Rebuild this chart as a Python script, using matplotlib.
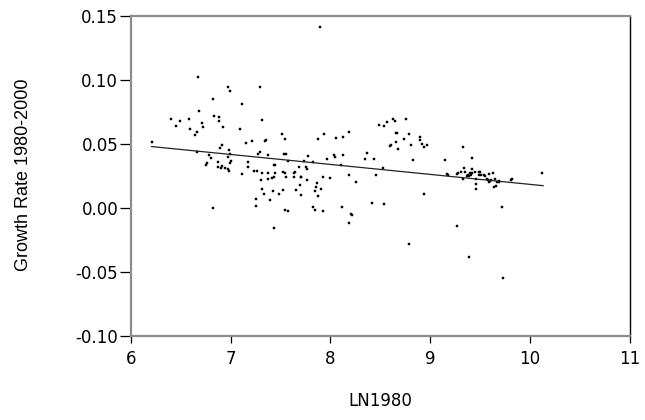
import matplotlib
matplotlib.use("Agg")

import matplotlib.pyplot as plt
import numpy as np

# LN1980 and growth rate 1980-2000
ln1980 = [
    6.67, 6.97, 6.99, 7.30, 7.90,
    6.82, 7.11, 6.68, 6.83, 6.88, 6.40, 6.58, 6.49, 7.32, 6.88,
    6.71, 6.45, 6.72, 6.92, 6.59, 7.09, 6.66, 6.64, 7.52, 7.55,
    7.36, 7.35, 7.21, 7.15, 6.21, 6.91, 6.89, 6.66, 6.98, 7.30,
    7.28, 7.38, 7.54, 7.56, 6.78, 6.80, 6.97, 6.99, 7.58, 7.17,
    7.00, 6.87, 6.76, 6.99, 6.75, 7.44, 7.45, 7.17, 6.87, 6.91,
    6.90, 6.94, 6.97, 6.98, 7.23, 7.27, 7.53, 7.55, 7.11, 7.32,
    7.38, 7.45, 7.56, 7.44, 7.42, 7.38, 7.31, 7.32, 7.53, 7.43,
    7.34, 7.49, 7.25, 7.40, 7.26, 6.82, 7.55, 7.58, 7.44,
    8.63, 8.76, 8.65, 8.57, 8.49, 8.54, 8.19, 7.94, 8.66, 8.67,
    8.79, 7.88, 8.06, 8.13, 8.90, 8.74, 8.90, 8.66, 8.81, 8.61,
    8.60, 8.92, 8.97, 8.94, 8.68, 8.37, 7.78, 8.04, 8.05, 8.13,
    8.35, 8.44, 8.83, 7.97, 7.74, 7.83, 8.11, 7.69, 7.76, 7.77,
    8.53, 7.65, 7.64, 8.19, 8.46, 7.93, 8.00, 7.71, 7.71, 7.64,
    7.77, 7.87, 8.26, 7.70, 7.86, 7.91, 7.66, 7.85, 8.94, 7.71,
    7.88, 8.42, 8.54, 7.83, 7.85, 7.93, 8.12, 8.21, 8.22, 8.19,
    8.79,
    9.33, 9.42, 9.15, 10.12, 9.17, 9.18, 9.34, 9.42, 9.31, 9.27,
    9.28, 9.35, 9.38, 9.40, 9.42, 9.39, 9.37, 9.41, 9.45, 9.49,
    9.50, 9.49, 9.51, 9.54, 9.55, 9.59, 9.63, 9.33, 9.46, 9.57,
    9.58, 9.60, 9.61, 9.59, 9.65, 9.69, 9.69, 9.67, 9.82, 9.81,
    9.46, 9.66, 9.64, 9.46, 9.72, 9.27, 9.39, 9.73,
]
growth = [
    0.1020, 0.0945, 0.0914, 0.0948, 0.1410,
    0.0852, 0.0808, 0.0756, 0.0719, 0.0712, 0.0698, 0.0691, 0.0678, 0.0688, 0.0678,
    0.0662, 0.0639, 0.0634, 0.0634, 0.0618, 0.0618, 0.0595, 0.0569, 0.0581, 0.0538,
    0.0532, 0.0522, 0.0527, 0.0511, 0.0517, 0.0496, 0.0472, 0.0436, 0.0457, 0.0441,
    0.0421, 0.0418, 0.0421, 0.0419, 0.0415, 0.0392, 0.0402, 0.0421, 0.0369, 0.0358,
    0.0369, 0.0361, 0.0348, 0.0351, 0.0340, 0.0335, 0.0338, 0.0324, 0.0324, 0.0330,
    0.0312, 0.0314, 0.0306, 0.0288, 0.0293, 0.0293, 0.0283, 0.0277, 0.0265, 0.0273,
    0.0273, 0.0270, 0.0246, 0.0244, 0.0236, 0.0226, 0.0223, 0.0150, 0.0145, 0.0137,
    0.0109, 0.0109, 0.0070, 0.0067, 0.0020, 0.0000, -0.0013, -0.0019, -0.0154,
    0.0696, 0.0694, 0.0680, 0.0675, 0.0649, 0.0641, 0.0595, 0.0574, 0.0587, 0.0587,
    0.0581, 0.0540, 0.0550, 0.0558, 0.0558, 0.0538, 0.0530, 0.0517, 0.0496, 0.0491,
    0.0486, 0.0501, 0.0493, 0.0475, 0.0462, 0.0433, 0.0410, 0.0415, 0.0400, 0.0415,
    0.0384, 0.0384, 0.0379, 0.0382, 0.0371, 0.0356, 0.0337, 0.0322, 0.0320, 0.0304,
    0.0316, 0.0281, 0.0270, 0.0260, 0.0260, 0.0246, 0.0234, 0.0244, 0.0242, 0.0239,
    0.0218, 0.0195, 0.0205, 0.0182, 0.0168, 0.0148, 0.0143, 0.0135, 0.0109, 0.0104,
    0.0098, 0.0041, 0.0034, 0.0008, -0.0011, -0.0026, 0.0008, -0.0044, -0.0055, -0.0112,
    -0.0278,
    0.0478, 0.0387, 0.0376, 0.0273, 0.0267, 0.0260, 0.0316, 0.0306, 0.0285, 0.0267,
    0.0273, 0.0283, 0.0262, 0.0270, 0.0275, 0.0250, 0.0248, 0.0256, 0.0280, 0.0278,
    0.0283, 0.0262, 0.0257, 0.0260, 0.0252, 0.0267, 0.0273, 0.0226, 0.0231, 0.0230,
    0.0220, 0.0210, 0.0218, 0.0205, 0.0228, 0.0210, 0.0200, 0.0203, 0.0231, 0.0220,
    0.0192, 0.0176, 0.0164, 0.0150, 0.0010, -0.0138, -0.0382, -0.0541,
]

# fitted regression line, end points
fit_x = [6.21, 10.13]
fit_y = [0.0480, 0.0175]

x_ticks = [6, 7, 8, 9, 10, 11]
y_ticks = [-0.10, -0.05, 0.00, 0.05, 0.10, 0.15]

fig = plt.figure(figsize=(6.45, 4.2), dpi=100)
ax = fig.add_axes([0.2026, 0.199, 0.7741, 0.7636])

ax.plot(ln1980, growth, linestyle="none", marker="s", markersize=1.6,
        color="black", markeredgewidth=0.3)
ax.plot(fit_x, fit_y, color="#222222", linewidth=0.9)

ax.set_xlim(6, 11)
ax.set_ylim(-0.10, 0.15)
ax.set_xticks(x_ticks)
ax.set_yticks(y_ticks)
ax.set_xticklabels([str(v) for v in x_ticks])
ax.set_yticklabels([f"{v:.2f}" for v in y_ticks])

for label in ax.get_xticklabels() + ax.get_yticklabels():
    label.set_fontfamily(["DejaVu Sans"])
    label.set_fontsize(12)

ax.tick_params(axis="y", direction="out", length=8, width=0.9, pad=1, colors="black")
ax.tick_params(axis="x", direction="out", length=5, width=0.9, pad=5, colors="black")

for side in ["left", "bottom", "top"]:
    ax.spines[side].set_color("#8c8c8c")
    ax.spines[side].set_linewidth(1.6)
ax.spines["right"].set_color("black")
ax.spines["right"].set_linewidth(1.0)

ax.set_xlabel("LN1980", family=["DejaVu Sans"], fontsize=12)
ax.xaxis.set_label_coords(0.5, -0.172)
ax.set_ylabel("Growth Rate 1980-2000", family=["Liberation Sans", "DejaVu Sans"],
              fontsize=13)
ax.yaxis.set_label_coords(-0.198, 0.505)

fig.savefig("out.png", dpi=100)
